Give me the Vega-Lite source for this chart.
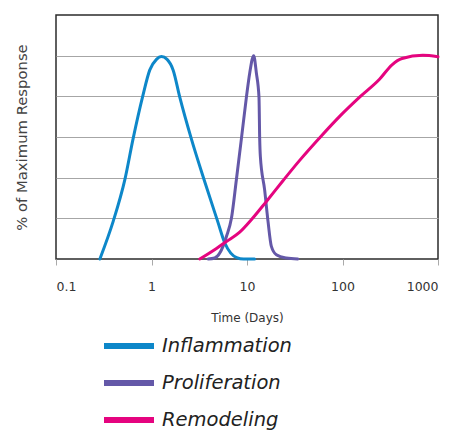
{
  "$schema": "https://vega.github.io/schema/vega-lite/v6.json",
  "width": 382,
  "height": 244,
  "autosize": {"type": "none"},
  "padding": {"left": 56, "top": 15, "right": 17, "bottom": 171},
  "background": "white",
  "config": {
    "view": {"stroke": "#2b2b2b", "strokeWidth": 1.5},
    "font": "DejaVu Sans"
  },
  "data": {
    "values": [
      {"t": 0.288, "v": 0, "s": "Inflammation"},
      {"t": 0.397, "v": 18.5, "s": "Inflammation"},
      {"t": 0.526, "v": 39, "s": "Inflammation"},
      {"t": 0.642, "v": 59.2, "s": "Inflammation"},
      {"t": 0.805, "v": 79.6, "s": "Inflammation"},
      {"t": 0.96, "v": 93, "s": "Inflammation"},
      {"t": 1.127, "v": 98.2, "s": "Inflammation"},
      {"t": 1.27, "v": 99.6, "s": "Inflammation"},
      {"t": 1.456, "v": 98.2, "s": "Inflammation"},
      {"t": 1.683, "v": 93, "s": "Inflammation"},
      {"t": 1.977, "v": 79.6, "s": "Inflammation"},
      {"t": 2.61, "v": 59.2, "s": "Inflammation"},
      {"t": 3.61, "v": 38, "s": "Inflammation"},
      {"t": 4.93, "v": 18.5, "s": "Inflammation"},
      {"t": 5.84, "v": 8, "s": "Inflammation"},
      {"t": 6.76, "v": 2.9, "s": "Inflammation"},
      {"t": 7.8, "v": 0.7, "s": "Inflammation"},
      {"t": 9.2, "v": 0, "s": "Inflammation"},
      {"t": 12.0, "v": 0, "s": "Inflammation"},
      {"t": 3.91, "v": 0, "s": "Proliferation"},
      {"t": 4.59, "v": 0.5, "s": "Proliferation"},
      {"t": 5.61, "v": 6.2, "s": "Proliferation"},
      {"t": 6.09, "v": 11.1, "s": "Proliferation"},
      {"t": 6.87, "v": 20, "s": "Proliferation"},
      {"t": 7.74, "v": 39, "s": "Proliferation"},
      {"t": 8.74, "v": 59.2, "s": "Proliferation"},
      {"t": 9.86, "v": 79.6, "s": "Proliferation"},
      {"t": 10.67, "v": 91.4, "s": "Proliferation"},
      {"t": 11.75, "v": 100, "s": "Proliferation"},
      {"t": 12.54, "v": 91.4, "s": "Proliferation"},
      {"t": 13.35, "v": 79.6, "s": "Proliferation"},
      {"t": 13.58, "v": 59.2, "s": "Proliferation"},
      {"t": 13.8, "v": 50.4, "s": "Proliferation"},
      {"t": 15.3, "v": 34, "s": "Proliferation"},
      {"t": 16.6, "v": 18.5, "s": "Proliferation"},
      {"t": 18.0, "v": 6.2, "s": "Proliferation"},
      {"t": 20.3, "v": 2.1, "s": "Proliferation"},
      {"t": 25.8, "v": 0.5, "s": "Proliferation"},
      {"t": 34.1, "v": 0, "s": "Proliferation"},
      {"t": 3.2, "v": 0, "s": "Remodeling"},
      {"t": 4.79, "v": 5.2, "s": "Remodeling"},
      {"t": 6.09, "v": 8.6, "s": "Remodeling"},
      {"t": 8.39, "v": 13.2, "s": "Remodeling"},
      {"t": 11.1, "v": 19.3, "s": "Remodeling"},
      {"t": 15.96, "v": 28.3, "s": "Remodeling"},
      {"t": 23.8, "v": 38.5, "s": "Remodeling"},
      {"t": 35.6, "v": 48.5, "s": "Remodeling"},
      {"t": 60, "v": 60.5, "s": "Remodeling"},
      {"t": 95, "v": 70.5, "s": "Remodeling"},
      {"t": 151, "v": 79.6, "s": "Remodeling"},
      {"t": 244, "v": 88.4, "s": "Remodeling"},
      {"t": 330, "v": 95.5, "s": "Remodeling"},
      {"t": 420, "v": 98.6, "s": "Remodeling"},
      {"t": 693, "v": 100.2, "s": "Remodeling"},
      {"t": 1000, "v": 99.5, "s": "Remodeling"}
    ]
  },
  "mark": {"type": "line", "interpolate": "monotone", "strokeWidth": 3, "strokeCap": "round"},
  "encoding": {
    "x": {
      "field": "t", "type": "quantitative",
      "scale": {"type": "log", "domain": [0.1, 1000], "nice": false},
      "axis": {
        "title": "Time (Days)", "values": [0.1, 1, 10, 100, 1000],
        "format": "~g", "grid": false, "domain": false,
        "tickColor": "#aaaaaa", "tickSize": 6, "tickWidth": 1,
        "labelFontSize": 12.5, "labelColor": "#333333", "labelPadding": 15,
        "titleFontSize": 12, "titleFontWeight": "normal", "titleColor": "#333333", "titlePadding": 20
      }
    },
    "y": {
      "field": "v", "type": "quantitative",
      "scale": {"domain": [0, 120], "nice": false},
      "axis": {
        "title": "% of Maximum Response", "values": [20, 40, 60, 80, 100],
        "labels": false, "ticks": false, "domain": false,
        "grid": true, "gridColor": "#a6a6a6", "gridWidth": 1, "gridOpacity": 1,
        "titleFontSize": 14.8, "titleFontWeight": "normal", "titleColor": "#444444", "titlePadding": 27
      }
    },
    "color": {
      "field": "s", "type": "nominal",
      "scale": {"domain": ["Inflammation", "Proliferation", "Remodeling"], "range": ["#0d87c9", "#6458a8", "#e5047f"]},
      "legend": {
        "orient": "none", "legendX": 60, "legendY": 318, "title": null,
        "symbolType": "M-2.5,0L2.5,0", "symbolSize": 400, "symbolStrokeWidth": 6,
        "labelFontSize": 19.5, "labelFontStyle": "italic", "labelColor": "#222222",
        "labelOffset": 20, "rowPadding": 12, "padding": 0
      }
    }
  }
}
